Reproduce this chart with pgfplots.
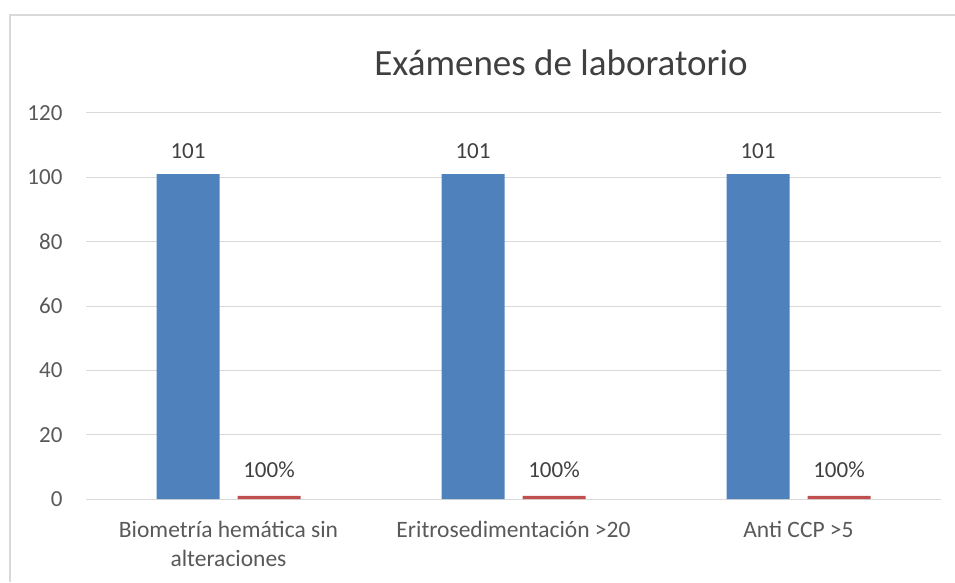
\documentclass[border=0pt]{standalone}
\usepackage{fontspec}
\setmainfont{Carlito}
\usepackage{pgfplots}
\pgfplotsset{compat=1.18}
\definecolor{barblue}{HTML}{4F81BD}
\definecolor{barred}{HTML}{C0504D}
\definecolor{gridgray}{HTML}{D9D9D9}
\definecolor{txtgray}{HTML}{595959}
\definecolor{titlegray}{HTML}{404040}
\begin{document}
\begin{tikzpicture}
\useasboundingbox (0pt,0pt) rectangle (955pt,582pt);
% chart frame (cropped at right and bottom)
\draw[gridgray,line width=1.2pt] (10pt,0pt) -- (10pt,567pt) -- (955pt,567pt);
\node[font=\fontsize{37}{44}\selectfont,text=titlegray] at (561pt,519pt) {Exámenes de laboratorio};
\begin{axis}[
  at={(86pt,83pt)},anchor=south west,scale only axis,
  width=855pt,height=386pt,
  xmin=0,xmax=3,ymin=0,ymax=120,
  ytick={0,20,...,120},
  xtick={0.5,1.5,2.5},
  xticklabels={{Biometría hemática sin\\alteraciones},{Eritrosedimentación >20},{Anti CCP >5}},
  xticklabel style={align=center,font=\fontsize{23.5}{29}\selectfont,text=txtgray,yshift=-19pt},
  yticklabel style={font=\fontsize{23}{28}\selectfont,text=txtgray,xshift=-20pt},
  /pgf/number format/assume math mode=true,
  ymajorgrids,grid style={gridgray,line width=1pt},
  axis line style={draw=none},
  major tick length=0pt,
  ybar,bar width=63pt,
  nodes near coords,
  point meta=explicit symbolic,
  every node near coord/.append style={font=\fontsize{23}{28}\selectfont,text=titlegray,anchor=south},
]
\addplot[fill=barblue,draw=none,bar shift=-40.5pt,
  every node near coord/.append style={yshift=12pt}]
  coordinates {(0.5,101)[101] (1.5,101)[101] (2.5,101)[101]};
\addplot[fill=barred,draw=none,bar shift=40.5pt,
  every node near coord/.append style={yshift=15pt}]
  coordinates {(0.5,1)[100\%] (1.5,1)[100\%] (2.5,1)[100\%]};
\end{axis}
\end{tikzpicture}
\end{document}
